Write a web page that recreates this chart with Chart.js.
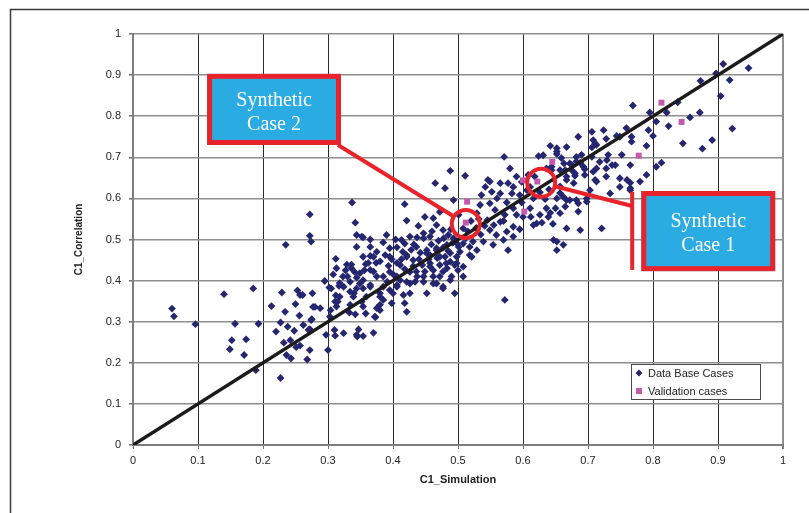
<!DOCTYPE html>
<html>
<head>
<meta charset="utf-8">
<script src="https://cdn.jsdelivr.net/npm/chart.js@4.4.1/dist/chart.umd.min.js"></script>
<style>
  html, body { margin: 0; padding: 0; background: #fff; }
  #wrap { position: relative; width: 809px; height: 513px; }
</style>
</head>
<body>
<div id="wrap"><canvas id="c" width="809" height="513"></canvas></div>
<script>
// ---- data ----
const tickLabels = ["0","0.1","0.2","0.3","0.4","0.5","0.6","0.7","0.8","0.9","1"];
const xTitle = "C1_Simulation";
const yTitle = "C1_Correlation";
const seriesNames = ["Data Base Cases", "Validation cases"];

// 1:1 reference line
const refX = [0, 1];
const refY = [0, 1];

// "Data Base Cases" [x, y]
const dbPoints = [
  [0.060,0.332],[0.063,0.313],[0.096,0.294],[0.140,0.367],[0.185,0.381],[0.157,0.295],[0.193,0.295],
  [0.152,0.255],[0.174,0.257],[0.149,0.233],[0.171,0.219],[0.189,0.182],[0.227,0.163],
  [0.229,0.371],[0.253,0.376],[0.261,0.365],[0.276,0.369],[0.213,0.338],[0.234,0.324],[0.250,0.343],
  [0.256,0.315],[0.280,0.336],[0.288,0.333],[0.227,0.298],[0.238,0.288],[0.220,0.276],[0.248,0.278],
  [0.274,0.304],[0.272,0.282],[0.232,0.249],[0.242,0.255],[0.251,0.238],[0.257,0.242],[0.236,0.219],
  [0.243,0.211],[0.272,0.231],[0.268,0.208],[0.300,0.231],[0.297,0.268],[0.310,0.280],[0.324,0.272],
  [0.304,0.328],[0.333,0.322],[0.342,0.318],[0.358,0.320],[0.373,0.311],[0.347,0.281],[0.370,0.273],
  [0.345,0.264],[0.354,0.265],[0.262,0.292],[0.270,0.280],[0.275,0.306],[0.277,0.336],[0.303,0.312],
  [0.311,0.266],[0.257,0.365],[0.311,0.349],[0.235,0.487],[0.272,0.561],[0.272,0.509],[0.274,0.495],
  [0.312,0.453],[0.365,0.460],[0.336,0.439],[0.358,0.440],[0.374,0.443],[0.308,0.415],[0.327,0.425],
  [0.330,0.410],[0.295,0.399],[0.302,0.383],[0.317,0.387],[0.344,0.407],[0.349,0.393],[0.354,0.381],
  [0.334,0.373],[0.312,0.364],[0.315,0.349],[0.340,0.369],[0.365,0.389],[0.344,0.482],[0.365,0.482],
  [0.406,0.481],[0.388,0.462],[0.393,0.436],[0.411,0.438],[0.421,0.462],[0.431,0.450],[0.436,0.482],
  [0.452,0.466],[0.467,0.479],[0.483,0.487],[0.457,0.442],[0.472,0.438],[0.488,0.446],[0.495,0.438],
  [0.477,0.422],[0.462,0.410],[0.490,0.410],[0.449,0.422],[0.436,0.422],[0.370,0.422],[0.385,0.410],
  [0.401,0.414],[0.411,0.401],[0.421,0.397],[0.434,0.397],[0.447,0.397],[0.467,0.393],[0.477,0.381],
  [0.495,0.369],[0.452,0.369],[0.426,0.369],[0.416,0.365],[0.406,0.385],[0.395,0.377],[0.380,0.369],
  [0.385,0.353],[0.398,0.345],[0.418,0.345],[0.421,0.324],[0.380,0.341],[0.380,0.328],[0.372,0.312],
  [0.352,0.349],[0.324,0.385],
  [0.337,0.590],[0.418,0.586],[0.472,0.567],[0.449,0.555],[0.342,0.541],[0.421,0.546],[0.439,0.533],
  [0.447,0.503],[0.426,0.507],[0.413,0.499],[0.344,0.511],[0.354,0.505],[0.365,0.500],[0.395,0.479],
  [0.395,0.458],[0.370,0.458],[0.354,0.458],[0.329,0.439],[0.313,0.430],[0.336,0.430],[0.362,0.443],
  [0.380,0.447],[0.406,0.443],[0.421,0.458],[0.457,0.462],[0.467,0.474],[0.477,0.480],[0.488,0.467],
  [0.498,0.491],[0.508,0.490],[0.518,0.482],[0.498,0.458],[0.518,0.462],[0.508,0.434],[0.457,0.434],
  [0.426,0.421],[0.395,0.421],[0.365,0.426],[0.349,0.418],[0.323,0.410],[0.334,0.397],[0.354,0.401],
  [0.375,0.410],[0.406,0.410],[0.447,0.410],[0.472,0.410],[0.488,0.401],[0.426,0.393],[0.406,0.389],
  [0.385,0.385],[0.365,0.385],[0.344,0.381],[0.318,0.394],[0.305,0.381],[0.318,0.361],[0.339,0.361],
  [0.359,0.361],[0.380,0.361],[0.400,0.369],[0.572,0.353],[0.313,0.337],[0.334,0.341],[0.354,0.337],
  [0.375,0.333],[0.344,0.268],[0.390,0.511],[0.352,0.507],
  [0.398,0.452],[0.415,0.470],[0.428,0.475],[0.442,0.468],[0.459,0.488],[0.470,0.497],[0.485,0.472],
  [0.492,0.492],[0.503,0.470],[0.512,0.503],[0.523,0.495],[0.535,0.512],[0.528,0.528],[0.541,0.533],
  [0.515,0.520],[0.489,0.525],[0.478,0.503],[0.460,0.520],[0.437,0.505],[0.432,0.488],[0.418,0.490],
  [0.404,0.500],[0.385,0.493],[0.375,0.470],[0.440,0.452],[0.455,0.452],[0.468,0.455],[0.480,0.458],
  [0.431,0.435],[0.445,0.438],[0.462,0.425],[0.483,0.430],[0.500,0.425],[0.418,0.428],[0.413,0.452],
  [0.356,0.425],[0.341,0.421],[0.391,0.397],[0.437,0.410],
  [0.571,0.701],[0.624,0.703],[0.652,0.714],[0.488,0.667],[0.511,0.655],[0.580,0.673],[0.590,0.653],
  [0.546,0.645],[0.542,0.628],[0.565,0.637],[0.577,0.637],[0.583,0.612],[0.565,0.612],[0.552,0.616],
  [0.536,0.608],[0.595,0.608],[0.611,0.628],[0.618,0.653],[0.644,0.677],[0.657,0.669],[0.663,0.685],
  [0.667,0.645],[0.667,0.596],[0.652,0.600],[0.636,0.576],[0.626,0.560],[0.621,0.539],[0.639,0.555],
  [0.657,0.564],[0.667,0.527],[0.647,0.499],[0.662,0.487],[0.652,0.474],[0.611,0.576],[0.600,0.555],
  [0.585,0.576],[0.572,0.560],[0.565,0.543],[0.557,0.572],[0.549,0.588],[0.534,0.584],[0.529,0.564],
  [0.545,0.547],[0.549,0.523],[0.559,0.511],[0.575,0.519],[0.585,0.531],[0.570,0.499],[0.577,0.474],
  [0.554,0.487],[0.539,0.495],[0.529,0.474],[0.521,0.458],[0.501,0.482],[0.493,0.503],[0.485,0.511],
  [0.477,0.523],[0.467,0.535],[0.462,0.552],[0.493,0.596],[0.465,0.637],[0.480,0.625],[0.501,0.560],
  [0.508,0.527],[0.457,0.507],[0.447,0.515],[0.452,0.474],[0.472,0.458],[0.482,0.442],[0.498,0.442],
  [0.508,0.410],[0.462,0.393],[0.477,0.385],[0.642,0.728],[0.667,0.725],[0.685,0.750],[0.608,0.657],
  [0.675,0.681],[0.549,0.641],[0.585,0.628],[0.657,0.613],[0.682,0.596],[0.616,0.600],[0.642,0.565],
  [0.629,0.541],[0.652,0.495],[0.585,0.507],
  [0.598,0.640],[0.606,0.620],[0.626,0.615],[0.634,0.598],[0.640,0.622],[0.598,0.590],[0.612,0.555],
  [0.590,0.560],[0.575,0.590],[0.560,0.600],[0.520,0.545],[0.532,0.550],[0.555,0.535],[0.570,0.545],
  [0.595,0.525],
  [0.908,0.927],[0.947,0.917],[0.897,0.904],[0.918,0.888],[0.873,0.886],[0.904,0.849],[0.838,0.834],
  [0.769,0.826],[0.795,0.809],[0.821,0.809],[0.857,0.797],[0.872,0.809],[0.805,0.787],[0.824,0.776],
  [0.922,0.770],[0.846,0.734],[0.891,0.742],[0.876,0.721],[0.706,0.762],[0.724,0.766],[0.759,0.771],
  [0.793,0.766],[0.708,0.742],[0.728,0.745],[0.749,0.750],[0.767,0.750],[0.800,0.752],[0.767,0.738],
  [0.652,0.722],[0.706,0.724],[0.713,0.730],[0.790,0.728],[0.652,0.708],[0.659,0.698],[0.682,0.701],
  [0.706,0.701],[0.731,0.706],[0.752,0.706],[0.672,0.685],[0.688,0.687],[0.718,0.689],[0.742,0.681],
  [0.765,0.681],[0.813,0.687],[0.805,0.677],[0.644,0.669],[0.665,0.669],[0.695,0.671],[0.713,0.673],
  [0.728,0.673],[0.790,0.657],[0.680,0.655],[0.695,0.657],[0.713,0.641],[0.728,0.653],[0.749,0.649],
  [0.765,0.638],[0.780,0.641],[0.678,0.637],[0.749,0.628],[0.765,0.625],[0.734,0.612],[0.703,0.620],
  [0.672,0.596],[0.685,0.588],[0.698,0.592],[0.665,0.580],[0.685,0.568],[0.721,0.527],[0.688,0.523],
  [0.646,0.538],[0.616,0.535],[0.744,0.752],[0.711,0.734],[0.682,0.690],[0.690,0.706],[0.675,0.669],
  [0.693,0.677],[0.729,0.693],[0.737,0.681],[0.708,0.665],[0.680,0.661],[0.636,0.673],[0.631,0.705],
  [0.711,0.645],[0.760,0.645],[0.765,0.620],[0.667,0.653],[0.657,0.629],[0.698,0.600],[0.662,0.604],
  [0.650,0.576]
];

// "Validation cases" [x, y]
const valPoints = [
  [0.512,0.541],[0.514,0.592],[0.600,0.644],[0.602,0.568],[0.622,0.641],
  [0.645,0.689],[0.778,0.704],[0.813,0.833],[0.844,0.786]
];

// callouts, in data units
const callouts = [
  { box: [0.114, 0.903, 0.320, 0.730], text: ["Synthetic", "Case 2"],
    circle: [0.512, 0.538], lines: [[[0.3154, 0.730], [0.512, 0.538]]] },
  { box: [0.782, 0.618, 0.988, 0.423], text: ["Synthetic", "Case 1"],
    circle: [0.628, 0.638], lines: [[[0.628, 0.638], [0.768, 0.5815]], [[0.768, 0.616], [0.768, 0.426]]] }
];

const NAVY = "#25266f";
const MAGENTA = "#c259ac";
const RED = "#e8232b";
const CYAN = "#2aabe2";
const GRID_H = "#8e8e8e";
const GRID_V = "#2c2c2c";
const FONT = '"Liberation Sans", Arial, sans-serif';

// ---- plugins ----
const framePlugin = {
  id: "frame",
  beforeDraw(chart){
    const ctx = chart.ctx;
    ctx.save();
    ctx.fillStyle = "#fff";
    ctx.fillRect(0, 0, chart.width, chart.height);
    ctx.strokeStyle = "#3a3a3a";
    ctx.lineWidth = 1.5;
    ctx.beginPath();
    ctx.moveTo(10.5, chart.height);
    ctx.lineTo(10.5, 9.5);
    ctx.lineTo(chart.width, 9.5);
    ctx.stroke();
    ctx.restore();
  }
};

const calloutPlugin = {
  id: "callouts",
  afterDatasetsDraw(chart){
    const ctx = chart.ctx;
    const xs = chart.scales.x, ys = chart.scales.y;
    const px = (v) => xs.getPixelForValue(v);
    const py = (v) => ys.getPixelForValue(v);
    const R = 14;
    ctx.save();
    ctx.strokeStyle = RED;
    ctx.lineCap = "butt";
    callouts.forEach(c => {
      const cx = px(c.circle[0]), cy = py(c.circle[1]);
      ctx.lineWidth = 4;
      c.lines.forEach(seg => {
        let x1 = px(seg[0][0]), y1 = py(seg[0][1]);
        let x2 = px(seg[1][0]), y2 = py(seg[1][1]);
        // trim the end touching the circle
        const d1 = Math.hypot(x1 - cx, y1 - cy), d2 = Math.hypot(x2 - cx, y2 - cy);
        if (d1 < 1){ const L = Math.hypot(x2-x1, y2-y1); x1 += (x2-x1)/L*R; y1 += (y2-y1)/L*R; }
        if (d2 < 1){ const L = Math.hypot(x2-x1, y2-y1); x2 -= (x2-x1)/L*R; y2 -= (y2-y1)/L*R; }
        ctx.beginPath();
        ctx.moveTo(x1, y1);
        ctx.lineTo(x2, y2);
        ctx.stroke();
      });
      ctx.beginPath();
      ctx.arc(cx, cy, R, 0, Math.PI * 2);
      ctx.stroke();

      const bx1 = px(c.box[0]), by1 = py(c.box[1]);
      const bx2 = px(c.box[2]), by2 = py(c.box[3]);
      ctx.fillStyle = CYAN;
      ctx.fillRect(bx1, by1, bx2 - bx1, by2 - by1);
      ctx.lineWidth = 5;
      ctx.strokeRect(bx1 + 2.5, by1 + 2.5, bx2 - bx1 - 5, by2 - by1 - 5);
      ctx.fillStyle = "#fff";
      ctx.font = '20px "Liberation Serif", "Times New Roman", serif';
      ctx.textAlign = "center";
      ctx.textBaseline = "middle";
      const mx = (bx1 + bx2) / 2, my = (by1 + by2) / 2 + 3;
      ctx.fillText(c.text[0], mx, my - 12);
      ctx.fillText(c.text[1], mx, my + 12);
    });
    ctx.restore();
  }
};

const legendPlugin = {
  id: "boxLegend",
  afterDraw(chart){
    const ctx = chart.ctx;
    const ca = chart.chartArea;
    const left = ca.right - 152, top = ca.bottom - 81;
    ctx.save();
    ctx.fillStyle = "#fff";
    ctx.fillRect(left, top, 129, 35);
    ctx.strokeStyle = "#4a4a4a";
    ctx.lineWidth = 1;
    ctx.strokeRect(left + 0.5, top + 0.5, 129, 35);
    ctx.font = "11px " + FONT;
    ctx.textBaseline = "middle";
    ctx.textAlign = "left";
    // diamond
    ctx.fillStyle = NAVY;
    ctx.beginPath();
    ctx.moveTo(left + 8, top + 5.5);
    ctx.lineTo(left + 11.5, top + 9);
    ctx.lineTo(left + 8, top + 12.5);
    ctx.lineTo(left + 4.5, top + 9);
    ctx.closePath();
    ctx.fill();
    ctx.fillStyle = MAGENTA;
    ctx.fillRect(left + 5, top + 24, 6, 6);
    ctx.fillStyle = "#222";
    ctx.fillText(seriesNames[0], left + 17, top + 9.5);
    ctx.fillText(seriesNames[1], left + 17, top + 27.5);
    ctx.restore();
  }
};

// ---- chart ----
const ctx = document.getElementById("c").getContext("2d");
new Chart(ctx, {
  type: "scatter",
  data: {
    datasets: [
      {
        type: "line",
        label: "1:1",
        data: refX.map((x, i) => ({ x, y: refY[i] })),
        borderColor: "#1b1b1b",
        borderWidth: 3.5,
        pointRadius: 0,
        fill: false
      },
      {
        label: seriesNames[1],
        data: valPoints.map(p => ({ x: p[0], y: p[1] })),
        pointStyle: "rect",
        pointRadius: 4.2,
        backgroundColor: MAGENTA,
        borderColor: MAGENTA,
        borderWidth: 0
      },
      {
        label: seriesNames[0],
        data: dbPoints.map(p => ({ x: p[0], y: p[1] })),
        pointStyle: "rectRot",
        pointRadius: 3.9,
        backgroundColor: NAVY,
        borderColor: NAVY,
        borderWidth: 0
      }
    ]
  },
  options: {
    responsive: false,
    animation: false,
    layout: { padding: { top: 34, right: 26, left: 0, bottom: 0 } },
    plugins: {
      legend: { display: false },
      tooltip: { enabled: false }
    },
    scales: {
      x: {
        type: "linear",
        min: 0, max: 1,
        afterFit(s){ s.height = 68; },
        ticks: {
          stepSize: 0.1,
          autoSkip: false,
          maxRotation: 0,
          padding: 5,
          color: "#222",
          font: { family: FONT, size: 11 },
          callback: (v, i) => tickLabels[i]
        },
        grid: {
          color: (c) => (c.tick && c.tick.value === 1) ? GRID_H : GRID_V,
          lineWidth: (c) => (c.tick && c.tick.value === 1) ? 2 : 1,
          tickLength: 4,
          tickColor: "#777"
        },
        border: { color: "#7d7d7d", width: 2 },
        title: {
          display: true,
          text: xTitle,
          color: "#222",
          font: { family: FONT, size: 11, weight: "bold" },
          padding: { top: 0, bottom: 26 }
        }
      },
      y: {
        type: "linear",
        min: 0, max: 1,
        afterFit(s){ s.width = 133; },
        ticks: {
          stepSize: 0.1,
          autoSkip: false,
          padding: 8,
          color: "#222",
          font: { family: FONT, size: 11 },
          callback: (v, i) => tickLabels[i]
        },
        grid: {
          color: GRID_H,
          lineWidth: 1.6,
          tickLength: 4,
          tickColor: "#777"
        },
        border: { color: "#7d7d7d", width: 2 },
        title: {
          display: true,
          text: yTitle,
          color: "#222",
          font: { family: FONT, size: 10, weight: "bold" },
          padding: { top: 73, bottom: 0 }
        }
      }
    }
  },
  plugins: [framePlugin, calloutPlugin, legendPlugin]
});
</script>
</body>
</html>
